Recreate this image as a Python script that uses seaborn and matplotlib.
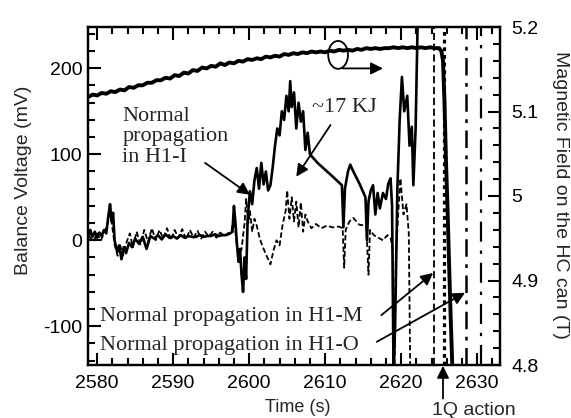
import matplotlib
matplotlib.use("Agg")
import matplotlib.pyplot as plt
from matplotlib.patches import Ellipse
from matplotlib.ticker import MultipleLocator
import seaborn as sns

# ---------------- data ----------------
# Balance voltage, coil H1-I (solid trace), time (s) / mV
t_h1i = [2578.8, 2579.1, 2579.4, 2579.7, 2580.0, 2580.3, 2580.6, 2580.9, 2581.2, 2581.5,
         2581.7, 2581.9, 2582.1, 2582.3, 2582.6, 2582.9, 2583.2, 2583.5, 2583.8, 2584.2,
         2584.6, 2585.0, 2585.5, 2586.0, 2586.5, 2587.0, 2587.5, 2588.0, 2588.5, 2589.0,
         2589.5, 2590.0, 2590.5, 2591.0, 2591.5, 2592.0, 2592.5, 2593.0, 2593.5, 2594.0,
         2594.5, 2595.0, 2595.5, 2596.0, 2596.5, 2597.0, 2597.5, 2597.8, 2598.0, 2598.2,
         2598.4, 2598.6, 2598.8, 2599.0, 2599.2, 2599.4, 2599.6, 2599.8, 2600.1, 2600.4,
         2600.7, 2601.0, 2601.3, 2601.6, 2601.9, 2602.2, 2602.5, 2602.8, 2603.1, 2603.4,
         2603.7, 2604.0, 2604.3, 2604.6, 2604.9, 2605.2, 2605.4, 2605.6, 2605.9, 2606.2,
         2606.5, 2606.8, 2607.1, 2607.4, 2607.7, 2608.0, 2608.5, 2609.0, 2610.0, 2611.0,
         2612.2, 2612.4, 2612.6, 2613.0, 2613.3, 2613.6, 2614.5, 2615.3, 2615.5, 2615.7,
         2616.0, 2616.3, 2616.6, 2616.9, 2617.2, 2617.6, 2618.0, 2618.3, 2618.6, 2618.8,
         2619.0, 2619.2, 2619.5, 2619.8, 2620.1, 2620.4, 2620.8, 2621.1, 2621.4, 2621.6,
         2621.9, 2622.2]
v_h1i = [2, 12, 4, 10, 3, 9, 5, 12, 8, 30,
         42, 22, 32, 0, -12, -6, -22, -8, -15, -3,
         -8, 2, -4, 4, -10, 5, 2, 6, 1, 7,
         3, 5, 2, 6, 3, 5, 4, 4, 6, 4,
         5, 5, 7, 5, 6, 6, 8, 10, 40, 20,
         -5, -25, -10, -40, -60, -20, -45, 25, 57, 42,
         70, 84, 60, 90, 65, 80, 58, 64, 85, 110,
         130, 122, 150, 140, 168, 150, 185, 155, 172, 130,
         160, 138, 150, 105, 125, 100, 95, 90, 82, 74,
         64, 15, 60, 80, 88, 82, 66, 50, 0, 45,
         58, 64, 30, 55, 37, 55, 48, 66, 72, 40,
         -160, -100, 60, 140, 190, 150, 168, 110, 132, 64,
         130, 270]

# Balance voltage, other coils (dashed trace)
t_oth = [2579.0, 2579.5, 2580.0, 2580.5, 2581.0, 2581.4, 2581.7, 2582.0, 2582.3, 2582.7,
         2583.0, 2583.4, 2583.8, 2584.3, 2584.7, 2585.2, 2585.7, 2586.2, 2586.7, 2587.2,
         2587.7, 2588.2, 2588.7, 2589.2, 2589.7, 2590.2, 2590.7, 2591.2, 2591.7, 2592.2,
         2592.7, 2593.2, 2593.7, 2594.2, 2594.7, 2595.2, 2595.7, 2596.2, 2596.7, 2597.2,
         2597.7, 2598.0, 2598.3, 2598.6, 2599.0, 2599.4, 2599.6, 2599.9, 2600.1, 2600.4,
         2600.7, 2601.0, 2601.4, 2601.8, 2602.3, 2602.8, 2603.2, 2603.6, 2604.0, 2604.4,
         2604.8, 2605.0, 2605.3, 2605.6, 2605.9, 2606.2, 2606.5, 2606.8, 2607.1, 2607.4,
         2607.7, 2608.2, 2608.8, 2609.5, 2610.2, 2611.0, 2611.8, 2612.3, 2612.5, 2612.7,
         2613.2, 2613.7, 2614.5, 2615.4, 2615.7, 2615.9, 2616.4, 2617.0, 2617.6, 2618.2,
         2618.6, 2618.9, 2619.1, 2619.3, 2619.6, 2619.9, 2620.3, 2620.7, 2621.0, 2621.2]
v_oth = [5, -2, 8, 0, 10, 20, 35, 15, -5, -18,
         -5, -18, -4, 8, -8, 10, -5, 12, -2, 14,
         0, 12, 2, 14, 0, 12, 3, 13, 1, 12,
         3, 11, 2, 10, 4, 10, 3, 9, 5, 8,
         12, 30, 0, -20, -10, 20, 48, 20, 34, 10,
         25, 17, 2, -8, -18, -28, -12, 0, -6, 18,
         34, 58, 25, 50, 22, 45, 15, 44, 10, 30,
         22, 14, 19, 14, 17, 15, 16, 14, -32, 12,
         22, 26, 18, 17, -40, 12, 6, 3, 0, 6,
         3, -10, -160, -20, 30, 72, 30, 42, 8, -160]

# Magnetic field on the HC can (T)
t_field = [2578.8, 2579.4, 2580.0, 2580.6, 2581.2, 2581.8, 2582.4, 2583.0, 2583.6, 2584.2,
           2584.8, 2585.4, 2586.0, 2586.6, 2587.2, 2587.8, 2588.4, 2589.0, 2589.6, 2590.2,
           2590.8, 2591.4, 2592.0, 2592.6, 2593.2, 2593.8, 2594.4, 2595.0, 2595.6, 2596.2,
           2596.8, 2597.4, 2598.0, 2598.6, 2599.2, 2599.8, 2600.4, 2601.0, 2601.6, 2602.2,
           2602.8, 2603.4, 2604.0, 2604.6, 2605.2, 2605.8, 2606.4, 2607.0, 2607.6, 2608.2,
           2608.8, 2609.4, 2610.0, 2610.6, 2611.2, 2611.8, 2612.4, 2613.0, 2613.6, 2614.2,
           2614.8, 2615.4, 2616.0, 2616.6, 2617.2, 2617.8, 2618.4, 2619.0, 2619.6, 2620.2,
           2620.8, 2621.4, 2622.0, 2622.6, 2623.2, 2623.8, 2624.4, 2625.0, 2625.3, 2625.5,
           2625.7, 2625.9, 2626.1, 2626.3, 2626.5, 2626.7, 2626.9]
b_field = [5.117, 5.120, 5.119, 5.122, 5.121, 5.124, 5.123, 5.126, 5.125, 5.129,
           5.128, 5.131, 5.131, 5.134, 5.134, 5.137, 5.137, 5.140, 5.139, 5.143,
           5.142, 5.146, 5.145, 5.149, 5.148, 5.152, 5.151, 5.154, 5.153, 5.157,
           5.155, 5.158, 5.157, 5.160, 5.159, 5.162, 5.161, 5.163, 5.162, 5.165,
           5.164, 5.166, 5.165, 5.168, 5.167, 5.169, 5.168, 5.170, 5.169, 5.171,
           5.170, 5.171, 5.170, 5.172, 5.171, 5.173, 5.172, 5.173, 5.172, 5.174,
           5.173, 5.175, 5.174, 5.175, 5.174, 5.175, 5.175, 5.176, 5.175, 5.176,
           5.175, 5.176, 5.175, 5.176, 5.175, 5.176, 5.175, 5.175, 5.171, 5.160,
           5.110, 5.040, 4.985, 4.920, 4.860, 4.805, 4.760]

# Off-scale traces at the quench (vertical lines), time (s)
quench_t = [2624.3, 2625.6, 2628.5, 2630.5]

x_ticks = [2580, 2590, 2600, 2610, 2620, 2630]
x_ticklabels = ["2580", "2590", "2600", "2610", "2620", "2630"]
yl_ticks = [-100, 0, 100, 200]
yl_ticklabels = ["-100", "0", "100", "200"]
yr_ticks = [4.8, 4.9, 5.0, 5.1, 5.2]
yr_ticklabels = ["4.8", "4.9", "5", "5.1", "5.2"]

# ---------------- style ----------------
sns.set_theme(style="ticks")
plt.rcParams['font.family'] = ['Liberation Sans', 'DejaVu Sans']
plt.rcParams['axes.unicode_minus'] = False
SERIF = ['Liberation Serif', 'DejaVu Serif']

W, H = 571, 418
fig = plt.figure(figsize=(W / 100, H / 100), dpi=100)
ax = fig.add_axes([88 / W, 1 - 365 / H, (500 - 88) / W, (365 - 27) / H])
ax2 = ax.twinx()

sns.lineplot(x=t_h1i, y=v_h1i, ax=ax, color='black', linewidth=1.9,
             estimator=None, sort=False)
sns.lineplot(x=t_oth, y=v_oth, ax=ax, color='black', linewidth=1.3,
             linestyle=(0, (3, 1.5)), estimator=None, sort=False)

q_styles = [(0, (4, 2)), (0, (1.2, 1.2)), (0, (7, 3, 1.5, 3)), (0, (9, 4, 1.5, 4))]
q_widths = [1.3, 2.3, 1.8, 1.6]
for t, ls, lw in zip(quench_t, q_styles, q_widths):
    ax.axvline(t, color='black', linestyle=ls, linewidth=lw)

sns.lineplot(x=t_field, y=b_field, ax=ax2, color='black', linewidth=2.8,
             estimator=None, sort=False)

ax.set_xlim(2578.8, 2633.0)
ax.set_ylim(-145, 248)
ax2.set_ylim(4.8, 5.2)

ax.set_xticks(x_ticks)
ax.set_xticklabels(x_ticklabels, fontsize=14)
ax.set_yticks(yl_ticks)
ax.set_yticklabels(yl_ticklabels, fontsize=14)
ax.xaxis.set_minor_locator(MultipleLocator(2))
ax.yaxis.set_minor_locator(MultipleLocator(20))
ax2.set_yticks(yr_ticks)
ax2.set_yticklabels(yr_ticklabels, fontsize=14)
ax2.yaxis.set_minor_locator(MultipleLocator(0.02))

ax.tick_params(which='both', direction='in', top=True, right=False, width=1.5,
               color='black', labelcolor='black')
ax.tick_params(which='major', length=9)
ax.tick_params(which='minor', length=5)
ax.tick_params(axis='x', which='major', pad=7)
ax.tick_params(axis='y', which='major', pad=4)
ax2.tick_params(which='both', direction='in', width=1.5, color='black', labelcolor='black')
ax2.tick_params(which='major', length=9, pad=8)
ax2.tick_params(which='minor', length=5)
for a in (ax, ax2):
    for s in a.spines.values():
        s.set_linewidth(1.6)
        s.set_color('black')
    a.grid(False)
ax.set_xlabel("")
ax.set_ylabel("")
ax2.set_ylabel("")

fig.text(24 / W, 1 - 180 / H, "Balance Voltage (mV)", rotation=90,
         ha='center', va='center', fontsize=14)
fig.text(561 / W, 1 - 195 / H, "Magnetic Field on the HC can (T)", rotation=270,
         ha='center', va='center', fontsize=14)
fig.text(298 / W, 1 - 407 / H, "Time (s)", ha='center', va='center', fontsize=13)

arrow = dict(arrowstyle='-|>', color='black', lw=1.3, mutation_scale=18,
             shrinkA=0, shrinkB=0)

ax.text(2583.3, 155, "Normal\npropagation\nin H1-I", family=SERIF, fontsize=16,
        ha='left', va='top', linespacing=1.1)
ax.annotate("", xy=(2600.1, 53), xytext=(2594.2, 90), arrowprops=arrow)

ax.text(2608.3, 154, "~17 KJ", family=SERIF, fontsize=16, ha='left', va='center')
ax.annotate("", xy=(2606.2, 74), xytext=(2610.7, 134), arrowprops=arrow)

ax.text(2580.4, -89, "Normal propagation in H1-M", family=SERIF, fontsize=16,
        ha='left', va='center')
ax.annotate("", xy=(2624.2, -38), xytext=(2617.4, -87), arrowprops=arrow)
ax.text(2580.4, -122, "Normal propagation in H1-O", family=SERIF, fontsize=16,
        ha='left', va='center')
ax.annotate("", xy=(2628.4, -61), xytext=(2616.8, -118), arrowprops=arrow)

ax.annotate("", xy=(2625.5, -146), xytext=(2625.5, -184), arrowprops=arrow,
            annotation_clip=False)
ax.text(2624.1, -198, "1Q action", fontsize=14, ha='left', va='center', clip_on=False)

ax2.add_patch(Ellipse((2611.7, 5.167), width=2.6, height=0.033, fill=False,
                      lw=1.3, color='black'))
ax2.annotate("", xy=(2617.6, 5.151), xytext=(2612.3, 5.151), arrowprops=arrow)

fig.savefig("out.png", dpi=100)
